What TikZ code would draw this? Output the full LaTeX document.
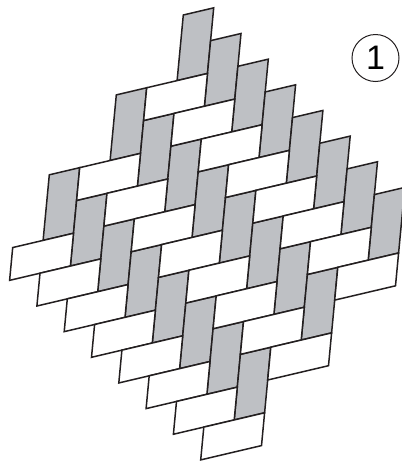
\documentclass[tikz,border=0pt]{standalone}
\usepackage{fontspec}
\setsansfont{Liberation Sans}
\definecolor{strandgray}{RGB}{190,192,196}
\definecolor{inkline}{RGB}{35,31,32}
\tikzset{
  warpbrick/.style={fill=strandgray, draw=inkline, line width=1.5pt},
  weftbrick/.style={fill=white, draw=inkline, line width=1.5pt},
}

\begin{document}
\begin{tikzpicture}[x=1pt,y=1pt]
  \useasboundingbox (0,0) rectangle (402,-464);
  % Slanted lattice: x along a brick's short side, y down its long side.
  \begin{scope}[shift={(183.3,-15)}, x={(30.4pt,7.15pt)}, y={(-3.1pt,-32.8pt)}]
    % Grey bricks, standing (three staircases).
    \foreach \a in {0,4,8}
      \foreach \k in {0,...,7}{
        \pgfmathtruncatemacro{\c}{\k-\a/2}
        \draw[warpbrick] (\c,\c+\a) -- ++(1,0) -- ++(0,2) -- ++(-1,0) -- cycle;
      }
    % White bricks, lying (three staircases).
    \foreach \b in {2,6,10}
      \foreach \k in {0,...,7}{
        \pgfmathtruncatemacro{\c}{\k-(\b-2)/2}
        \draw[weftbrick] (\c-1,\c+\b) -- ++(2,0) -- ++(0,1) -- ++(-2,0) -- cycle;
      }
  \end{scope}
  % Figure number.
  \node[circle, draw=inkline, line width=1pt, minimum size=47pt, inner sep=0pt,
        font=\sffamily\fontsize{34}{34}\selectfont] (num) at (375.5,-58) {1};
\end{tikzpicture}
\end{document}
